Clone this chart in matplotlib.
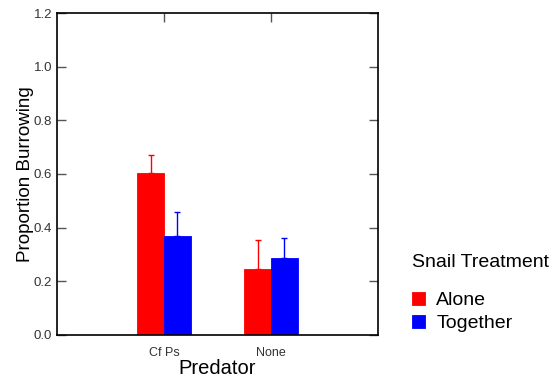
import numpy as np
import matplotlib.pyplot as plt

plt.rcParams['font.family'] = ['Liberation Sans', 'DejaVu Sans']

# Datos
predadores = ['Cf Ps', 'None']
tratamientos = ['Alone', 'Together']
solo = [0.603, 0.247]
solo_err = [0.069, 0.106]
juntos = [0.370, 0.287]
juntos_err = [0.087, 0.076]

colores = ['#ff0000', '#0000ff']

fig = plt.figure(figsize=(5.56, 3.78), dpi=100)
ax = fig.add_axes([0.1025, 0.1138, 0.5775, 0.8518])

x = np.arange(1, len(predadores) + 1)
ancho = 0.25

for idx, (vals, errs) in enumerate([(solo, solo_err), (juntos, juntos_err)]):
    pos = x - ancho / 2 + ancho * idx
    ax.bar(pos, vals, width=ancho, color=colores[idx], edgecolor=colores[idx],
           linewidth=0.6, label=tratamientos[idx], zorder=2)
    ax.errorbar(pos, vals, yerr=[np.zeros(len(errs)), errs], fmt='none',
                ecolor=colores[idx], elinewidth=1, capsize=2, capthick=1,
                zorder=1)

ax.set_xlim(0, 3)
ax.set_ylim(0, 1.2)
ax.set_xticks(x, predadores)
ax.set_yticks(np.arange(0, 1.21, 0.2))
ax.set_yticklabels([f'{v:.1f}' for v in np.arange(0, 1.21, 0.2)])
ax.tick_params(direction='in', length=6.5, width=1, color='#555555',
               top=True, right=True, labelcolor='#333333', labelsize=9.5)
ax.tick_params(axis='x', labelsize=9, bottom=False, pad=9)
for s in ax.spines.values():
    s.set_linewidth(1.2)

ax.set_xlabel('Predator', fontsize=14.5, labelpad=0)
ax.set_ylabel('Proportion Burrowing', fontsize=13.5, labelpad=0)

leg = ax.legend(loc='upper left', bbox_to_anchor=(412 / 556, 1 - 254 / 378),
                bbox_transform=fig.transFigure, frameon=False, borderpad=0,
                borderaxespad=0,
                title='Snail Treatment', fontsize=14, title_fontsize=14,
                handlelength=0.65, handleheight=0.65, handletextpad=0.6,
                labelspacing=0.3, alignment='left')
leg._legend_box.sep = 15

fig.savefig('out.png', dpi=100)
